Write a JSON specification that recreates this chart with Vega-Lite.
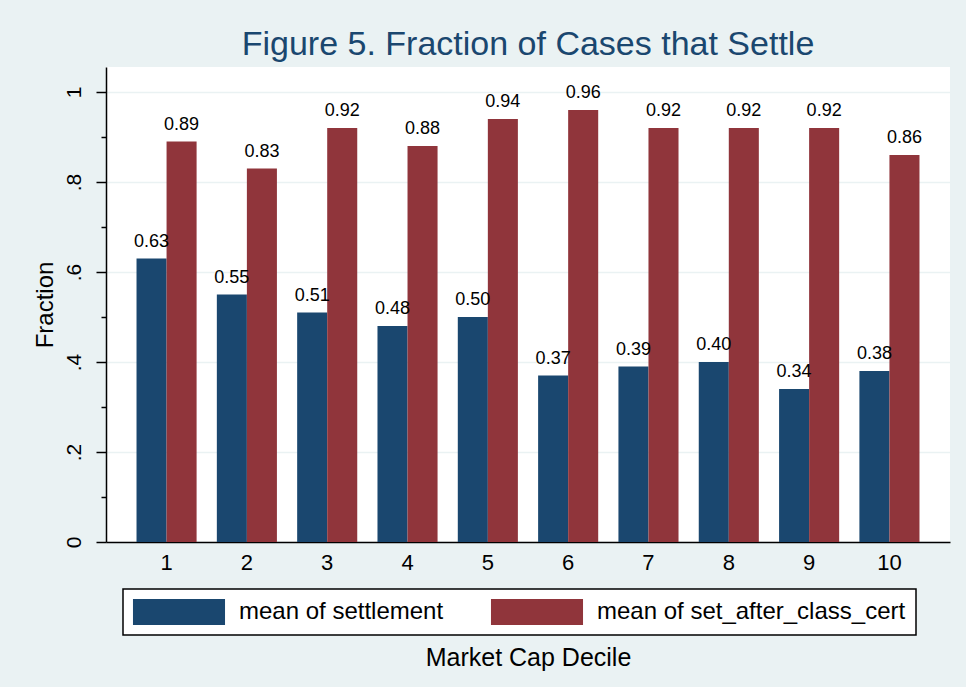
{
  "$schema": "https://vega.github.io/schema/vega-lite/v6.json",
  "width": 844,
  "height": 475,
  "autosize": {"type": "none"},
  "padding": {"left": 106, "top": 67, "right": 16, "bottom": 145},
  "background": "#EAF2F3",
  "config": {
    "font": "Liberation Sans",
    "view": {"fill": "white", "stroke": null}
  },
  "title": {
    "text": "Figure 5. Fraction of Cases that Settle",
    "fontSize": 34,
    "fontWeight": "normal",
    "color": "#1A476F",
    "anchor": "middle",
    "baseline": "bottom",
    "offset": 6,
    "dy": 35
  },
  "data": {
    "values": [
      {"decile": 1, "series": "mean of settlement", "value": 0.63},
      {"decile": 2, "series": "mean of settlement", "value": 0.55},
      {"decile": 3, "series": "mean of settlement", "value": 0.51},
      {"decile": 4, "series": "mean of settlement", "value": 0.48},
      {"decile": 5, "series": "mean of settlement", "value": 0.50},
      {"decile": 6, "series": "mean of settlement", "value": 0.37},
      {"decile": 7, "series": "mean of settlement", "value": 0.39},
      {"decile": 8, "series": "mean of settlement", "value": 0.40},
      {"decile": 9, "series": "mean of settlement", "value": 0.34},
      {"decile": 10, "series": "mean of settlement", "value": 0.38},
      {"decile": 1, "series": "mean of set_after_class_cert", "value": 0.89},
      {"decile": 2, "series": "mean of set_after_class_cert", "value": 0.83},
      {"decile": 3, "series": "mean of set_after_class_cert", "value": 0.92},
      {"decile": 4, "series": "mean of set_after_class_cert", "value": 0.88},
      {"decile": 5, "series": "mean of set_after_class_cert", "value": 0.94},
      {"decile": 6, "series": "mean of set_after_class_cert", "value": 0.96},
      {"decile": 7, "series": "mean of set_after_class_cert", "value": 0.92},
      {"decile": 8, "series": "mean of set_after_class_cert", "value": 0.92},
      {"decile": 9, "series": "mean of set_after_class_cert", "value": 0.92},
      {"decile": 10, "series": "mean of set_after_class_cert", "value": 0.86}
    ]
  },
  "encoding": {
    "x": {
      "field": "decile",
      "type": "ordinal",
      "scale": {"paddingInner": 0.252, "paddingOuter": 0.38},
      "axis": {
        "title": "Market Cap Decile",
        "titleFontSize": 25,
        "titleFontWeight": "normal",
        "titleColor": "black",
        "titlePadding": 72,
        "labelAngle": 0,
        "labelFontSize": 22,
        "labelColor": "black",
        "labelPadding": 10,
        "ticks": false,
        "domainColor": "black",
        "domainWidth": 1.5,
        "grid": false
      }
    },
    "xOffset": {
      "field": "series",
      "type": "nominal",
      "scale": {
        "domain": ["mean of settlement", "mean of set_after_class_cert"],
        "paddingInner": 0,
        "paddingOuter": 0
      }
    },
    "y": {
      "field": "value",
      "type": "quantitative",
      "scale": {"domain": [0, 1.0556], "nice": false},
      "axis": {
        "title": "Fraction",
        "titleFontSize": 24,
        "titleFontWeight": "normal",
        "titleColor": "black",
        "titlePadding": 6,
        "values": [0, 0.1, 0.2, 0.3, 0.4, 0.5, 0.6, 0.7, 0.8, 0.9, 1],
        "labelExpr": "abs(datum.value*5 - round(datum.value*5)) < 0.001 ? (datum.value == 0 ? '0' : (datum.value > 0.999 ? '1' : replace(format(datum.value, '.1f'), '0.', '.'))) : ''",
        "labelAngle": -90,
        "labelAlign": "center",
        "labelBaseline": "alphabetic",
        "labelFontSize": 21,
        "labelColor": "black",
        "labelPadding": 16,
        "tickSize": {"condition": {"test": "abs(datum.value*5 - round(datum.value*5)) < 0.001", "value": 10}, "value": 5},
        "tickColor": "black",
        "tickWidth": 1.5,
        "domainColor": "black",
        "domainWidth": 1.5,
        "grid": true,
        "gridColor": "#EAF2F3",
        "gridWidth": 1.5,
        "gridOpacity": {"condition": {"test": "abs(datum.value*5 - round(datum.value*5)) < 0.001", "value": 1}, "value": 0}
      }
    }
  },
  "layer": [
    {
      "mark": {"type": "bar"},
      "encoding": {
        "color": {
          "field": "series",
          "type": "nominal",
          "scale": {
            "domain": ["mean of settlement", "mean of set_after_class_cert"],
            "range": ["#1A476F", "#90353B"]
          },
          "legend": {
            "orient": "none",
            "legendX": 17,
            "legendY": 522,
            "direction": "horizontal",
            "columns": 2,
            "title": null,
            "symbolType": "M-3.54,-1H3.54V1H-3.54Z",
            "symbolSize": 676,
            "symbolOffset": 33,
            "symbolStrokeWidth": 0,
            "symbolOpacity": 1,
            "labelFontSize": 24,
            "labelColor": "black",
            "labelOffset": 47,
            "labelLimit": 400,
            "columnPadding": 46,
            "padding": 10,
            "strokeColor": "black",
            "fillColor": "white",
            "encode": {"legend": {"update": {"strokeWidth": {"value": 1.5}}}}
          }
        }
      }
    },
    {
      "mark": {"type": "text", "baseline": "alphabetic", "align": "center", "dy": -12, "fontSize": 18, "color": "black"},
      "encoding": {
        "text": {"field": "value", "type": "quantitative", "format": ".2f"}
      }
    }
  ]
}
